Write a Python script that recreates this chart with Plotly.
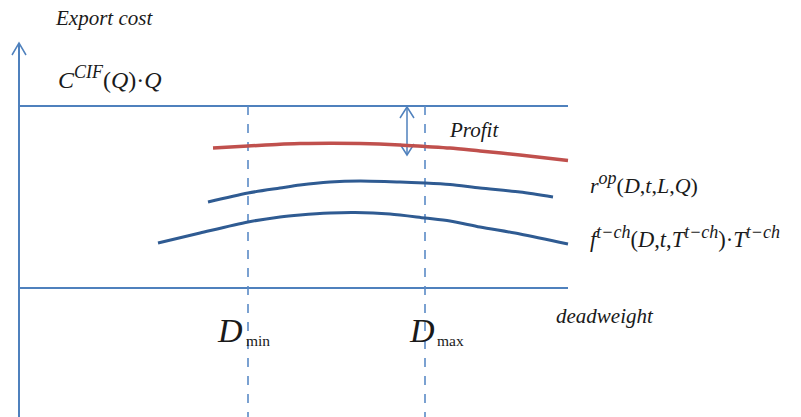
import plotly.graph_objects as go

# ---- data (schematic; x = deadweight, y = cost, screen-like units) ----
red_x = [213, 248, 280, 300, 330, 360, 400, 425, 450, 480, 520, 568]
red_y = [148, 146, 144.2, 143.6, 143.2, 143.5, 145, 146.5, 148, 151, 155, 160.5]

rop_x = [208, 248, 280, 300, 330, 360, 400, 425, 450, 480, 520, 553]
rop_y = [202, 193, 188, 185, 182, 181, 182, 183, 184.5, 188, 192, 197]

ftch_x = [158, 200, 248, 280, 300, 330, 355, 390, 425, 450, 480, 520, 568]
ftch_y = [243, 233, 222, 217, 215, 213, 212.5, 214, 218, 221, 227, 234, 244]

export_cost_level = 106
zero_level = 288
x_axis_start = 19
x_axis_end = 568
y_axis_top = 43
y_axis_bottom = 417
d_min = 248
d_max = 425
profit_x = 407
profit_top = 106
profit_bottom = 155

AX = "#4f81bd"
DARK = "#2f5b92"
RED = "#c0504d"
FONT = "Liberation Serif"

fig = go.Figure()

def line(xs, ys, color, width, dash="solid", shape="spline"):
    fig.add_trace(go.Scatter(x=xs, y=ys, mode="lines", hoverinfo="skip",
                             line=dict(color=color, width=width, dash=dash, shape=shape, smoothing=0.8)))

# axes lines
line([x_axis_start, x_axis_start], [y_axis_top, y_axis_bottom], AX, 2, shape="linear")
line([x_axis_start - 7, x_axis_start, x_axis_start + 7], [y_axis_top + 12, y_axis_top, y_axis_top + 12], AX, 1.5, shape="linear")
line([x_axis_start, x_axis_end], [export_cost_level, export_cost_level], AX, 2, shape="linear")
line([x_axis_start, x_axis_end], [zero_level, zero_level], AX, 2, shape="linear")

# dashed verticals
line([d_min, d_min], [export_cost_level, y_axis_bottom], "#5a8ac6", 1.6, "dash", "linear")
line([d_max, d_max], [export_cost_level, y_axis_bottom], "#5a8ac6", 1.6, "dash", "linear")

# profit double arrow
line([profit_x, profit_x], [profit_top + 1, profit_bottom], AX, 1.5, shape="linear")
line([profit_x - 7, profit_x, profit_x + 7], [profit_top + 12, profit_top + 1, profit_top + 12], AX, 1.5, shape="linear")
line([profit_x - 7, profit_x, profit_x + 7], [profit_bottom - 11, profit_bottom, profit_bottom - 11], AX, 1.5, shape="linear")

# curves
line(red_x, red_y, RED, 3.5)
line(rop_x, rop_y, DARK, 3)
line(ftch_x, ftch_y, DARK, 3)

def txt(x, y, s, size, anchor="left"):
    fig.add_annotation(x=x, y=y, text=s, showarrow=False, xanchor=anchor, yanchor="middle",
                       font=dict(family=FONT, size=size, color="#1a1a1a"))

def sup(s, size):
    return f"<sup><span style='font-size:{size}px'><i>{s}</i></span></sup>"

txt(53, 18, "<i>Export cost</i>", 21)
txt(56, 77, "<i>C</i>" + sup("CIF", 18) + "(<i>Q</i>)·<i>Q</i>", 24)
txt(447, 130, "<i>Profit</i>", 21)
txt(588, 183, "<i>r</i>" + sup("op", 18) + "(<i>D</i>,<i>t</i>,<i>L</i>,<i>Q</i>)", 22)
txt(588, 237, "<i>f</i>" + sup("t−ch", 18) + "(<i>D</i>,<i>t</i>,<i>T</i>" + sup("t−ch", 18)
    + ")·<i>T</i>" + sup("t−ch", 18), 22.5)
txt(554, 316, "<i>deadweight</i>", 21)
txt(215, 330, "<i>D</i>", 34)
txt(244, 340, "min", 15.5)
txt(407, 330, "<i>D</i>", 34)
txt(435, 340, "max", 15.5)

fig.update_layout(
    width=801, height=417, margin=dict(l=0, r=0, t=0, b=0),
    paper_bgcolor="white", plot_bgcolor="white", showlegend=False,
    xaxis=dict(range=[0, 801], visible=False, fixedrange=True),
    yaxis=dict(range=[417, 0], visible=False, fixedrange=True),
)
fig.write_html("out.html", config={"displayModeBar": False},
               post_script="document.body.style.margin='0';document.body.style.padding='0';")
